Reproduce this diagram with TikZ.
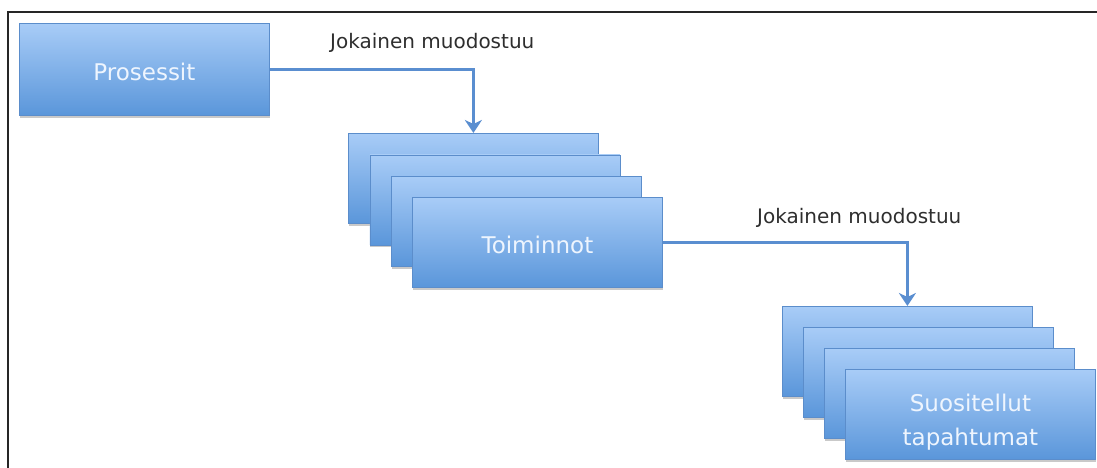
\documentclass[tikz,border=0pt]{standalone}
\usepackage{fontspec}
\setmainfont{DejaVu Sans}
\usetikzlibrary{arrows.meta,shadows}
\definecolor{boxtop}{HTML}{A8CCF7}
\definecolor{boxbot}{HTML}{5A96DA}
\definecolor{boxedge}{HTML}{5B8DCB}
\definecolor{boxtext}{HTML}{EEF5FE}
\definecolor{linkblue}{HTML}{5A8ED0}
\definecolor{labeltext}{HTML}{2E2E2E}
\tikzset{
  stepbox/.style={rectangle, draw=boxedge, line width=0.8pt,
    top color=boxtop, bottom color=boxbot,
    minimum width=250pt, minimum height=90pt, anchor=north west,
    text=boxtext, text height=28pt, text depth=5pt,
    font=\fontsize{23}{34}\selectfont,
    drop shadow={shadow xshift=0.5pt, shadow yshift=-2.5pt, opacity=0.3, fill=black!70}},
  link/.style={draw=linkblue, line width=3.2pt,
    -{Stealth[length=13pt, width=17pt, inset=4pt]}},
  linklabel/.style={anchor=west, text=labeltext, inner sep=0pt,
    font=\fontsize{20}{24}\selectfont},
  frame/.style={draw=black!85, line width=2pt}
}
\begin{document}
\begin{tikzpicture}[x=1pt, y=-1pt]
  \useasboundingbox (0,0) rectangle (1097,468);
  \clip (0,0) rectangle (1097,468);
  % outer frame (top and left edges)
  \draw[frame] (1100,12) -- (8,12) -- (8,470);

  % processes
  \node[stepbox, minimum height=92pt] (p) at (19,23) {Prosessit};

  % stack of activities
  \node[stepbox] (t1) at (348,133) {};
  \node[stepbox] (t2) at (369.5,154.5) {};
  \node[stepbox] (t3) at (391,176) {};
  \node[stepbox] (t4) at (412,197) {Toiminnot};

  % stack of recommended events
  \node[stepbox] (s1) at (782,306) {};
  \node[stepbox] (s2) at (803,327) {};
  \node[stepbox] (s3) at (824,348) {};
  \node[stepbox, text height=54pt, text depth=27pt] (s4) at (845,369)
    {\begin{tabular}{@{}c@{}}Suositellut\\tapahtumat\end{tabular}};

  % connectors
  \draw[link] (p.east) -| (t1.north);
  \draw[link] (t4.east) -| (s1.north);

  % connector labels
  \node[linklabel] (l1) at (330,43) {Jokainen muodostuu};
  \node[linklabel] (l2) at (757,218) {Jokainen muodostuu};
\end{tikzpicture}
\end{document}
